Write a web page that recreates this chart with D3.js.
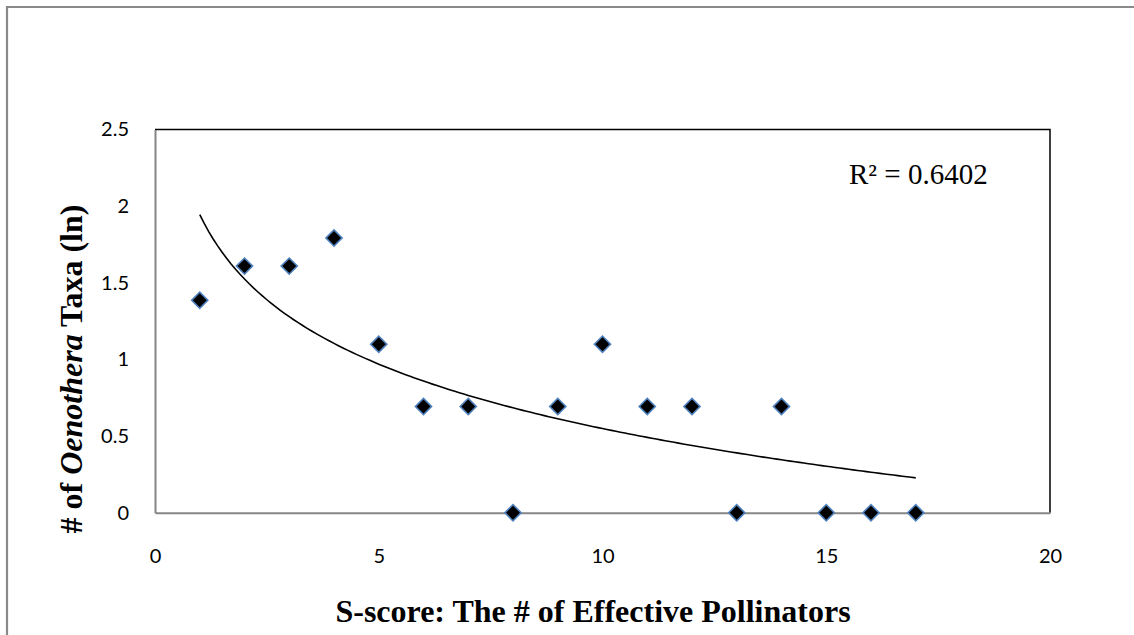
<!DOCTYPE html>
<html>
<head>
<meta charset="utf-8">
<script src="https://cdn.jsdelivr.net/npm/d3@7"></script>
<style>
  html, body { margin: 0; padding: 0; background: #fff; }
  svg { display: block; }
</style>
</head>
<body>
<svg id="chart" width="1134" height="635"></svg>
<script>
// S-score (number of effective pollinators) per group
const sScores = [1, 2, 3, 4, 5, 6, 7, 8, 9, 10, 11, 12, 13, 14, 15, 16, 17];
// Number of Oenothera taxa, natural log
const lnTaxa = [1.386, 1.609, 1.609, 1.792, 1.099, 0.693, 0.693, 0, 0.693, 1.099, 0.693, 0.693, 0, 0.693, 0, 0, 0];
const xTicks = [0, 5, 10, 15, 20];
const yTicks = [0, 0.5, 1, 1.5, 2, 2.5];
const rSquaredLabel = "R² = 0.6402";

const svg = d3.select("#chart");
const plot = { left: 155, right: 1050, top: 129.5, bottom: 512.7 };

const x = d3.scaleLinear().domain([0, 20]).range([plot.left, plot.right]);
const y = d3.scaleLinear().domain([0, 2.5]).range([plot.bottom, plot.top]);

// Outer chart border (left and top visible)
svg.append("path")
  .attr("d", `M7,640 L7,7 L1140,7`)
  .attr("fill", "none")
  .attr("stroke", "#898989")
  .attr("stroke-width", 2.2);

// Plot frame: top and right edges
svg.append("path")
  .attr("d", `M${plot.left},${plot.top} L${plot.right},${plot.top} L${plot.right},${plot.bottom}`)
  .attr("fill", "none")
  .attr("stroke", "#000")
  .attr("stroke-width", 1.5);

// Axes
const yAxis = d3.axisLeft(y).tickValues(yTicks).tickSize(0).tickPadding(26)
  .tickFormat(d => d3.format("")(d));
const xAxis = d3.axisBottom(x).tickValues(xTicks).tickSize(0).tickPadding(36)
  .tickFormat(d => d3.format("")(d));

const gy = svg.append("g").attr("transform", `translate(${plot.left},0)`).call(yAxis);
const gx = svg.append("g").attr("transform", `translate(0,${plot.bottom})`).call(xAxis);

[gx, gy].forEach(g => {
  g.select(".domain").attr("stroke", "#868686").attr("stroke-width", 2);
  g.selectAll("text")
    .attr("font-family", "Lato, 'Open Sans', sans-serif")
    .attr("font-size", 20)
    .attr("fill", "#000");
});

// Logarithmic trendline fitted to the data: y = a*ln(x) + b
const lx = sScores.map(Math.log);
const mx = d3.mean(lx), my = d3.mean(lnTaxa);
let sxy = 0, sxx = 0;
lx.forEach((v, i) => { sxy += (v - mx) * (lnTaxa[i] - my); sxx += (v - mx) * (v - mx); });
const a = sxy / sxx, b = my - a * mx;
const xMin = d3.min(sScores), xMax = d3.max(sScores);
const trendX = d3.range(xMin, xMax + 0.0001, 0.1);
svg.append("path")
  .datum(trendX)
  .attr("d", d3.line().x(d => x(d)).y(d => y(a * Math.log(d) + b)))
  .attr("fill", "none")
  .attr("stroke", "#000")
  .attr("stroke-width", 1.6);

// Data markers: black diamonds with blue outline
const diamond = d3.symbol().type(d3.symbolSquare).size(130);
svg.append("g").selectAll("path")
  .data(sScores.map((s, i) => [s, lnTaxa[i]]))
  .join("path")
  .attr("d", diamond)
  .attr("transform", d => `translate(${x(d[0])},${y(d[1])}) rotate(45)`)
  .attr("fill", "#000")
  .attr("stroke", "#4F81BD")
  .attr("stroke-width", 1.6);

// R² annotation
svg.append("text")
  .attr("x", 849).attr("y", 184)
  .attr("font-family", "'Liberation Serif', 'Times New Roman', serif")
  .attr("font-size", 29)
  .attr("fill", "#000")
  .text(rSquaredLabel);

// Axis titles
svg.append("text")
  .attr("x", 593).attr("y", 622)
  .attr("text-anchor", "middle")
  .attr("font-family", "'Liberation Serif', 'Times New Roman', serif")
  .attr("font-weight", "bold")
  .attr("font-size", 32)
  .attr("fill", "#000")
  .text("S-score: The # of Effective Pollinators");

const yTitle = svg.append("text")
  .attr("transform", `translate(82,369) rotate(-90)`)
  .attr("text-anchor", "middle")
  .attr("font-family", "'Liberation Serif', 'Times New Roman', serif")
  .attr("font-weight", "bold")
  .attr("font-size", 32)
  .attr("fill", "#000");
yTitle.append("tspan").text("# of ");
yTitle.append("tspan").attr("font-style", "italic").text("Oenothera");
yTitle.append("tspan").text(" Taxa (ln)");
</script>
</body>
</html>
